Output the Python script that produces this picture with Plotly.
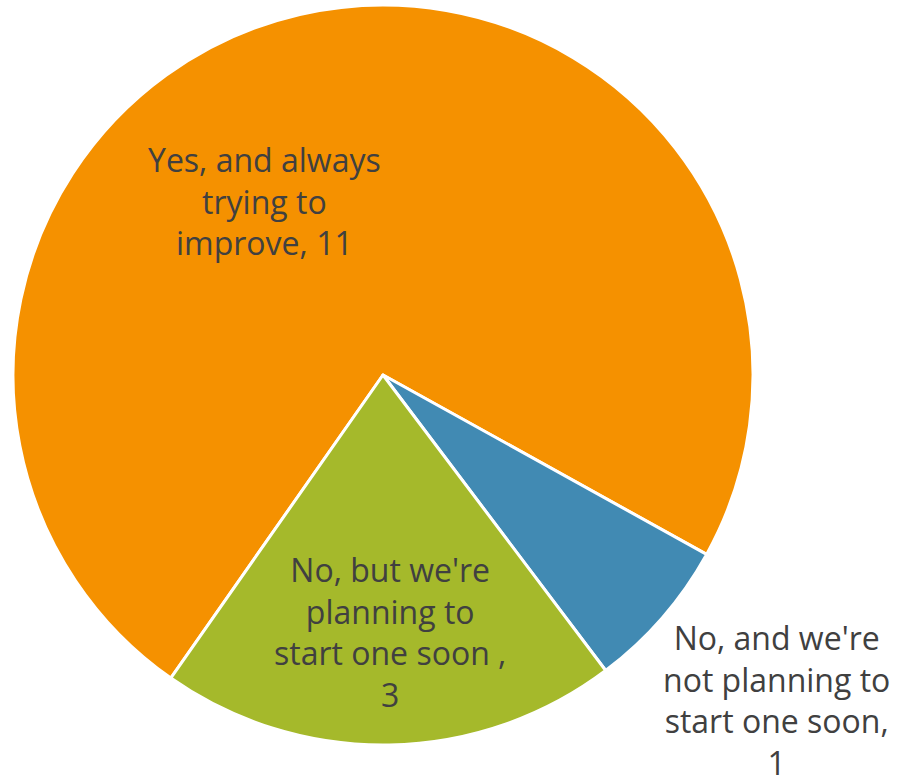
import plotly.graph_objects as go

# Survey responses
categories = [
    "Yes, and always trying to improve",
    "No, and we're not planning to start one soon",
    "No, but we're planning to start one soon ",
]
counts = [11, 1, 3]
colors = ["#F59100", "#418AB3", "#A5B92B"]

# Wrapped label text shown on the chart
label_lines = [
    ["Yes, and always", "trying to", "improve, " + str(counts[0])],
    ["No, and we're", "not planning to", "start one soon,", str(counts[1])],
    ["No, but we're", "planning to", "start one soon ,", str(counts[2])],
]
# Label anchor positions (paper pixels from top-left)
label_pos = [(264, 201), (776, 700), (390, 632)]

W, H = 897, 781

fig = go.Figure(
    go.Pie(
        labels=categories,
        values=counts,
        sort=False,
        direction="clockwise",
        rotation=215,
        marker=dict(colors=colors, line=dict(color="white", width=3)),
        textinfo="none",
        hoverinfo="label+value",
        domain=dict(x=[13 / W, 753 / W], y=[1 - 745 / H, 1 - 5 / H]),
        showlegend=False,
    )
)

for lines, (px, py) in zip(label_lines, label_pos):
    fig.add_annotation(
        x=px / W,
        y=1 - py / H,
        xref="paper",
        yref="paper",
        text="<br>".join(lines),
        showarrow=False,
        align="center",
        xanchor="center",
        yanchor="middle",
        font=dict(family="Open Sans", size=32, color="#404040"),
    )

fig.update_layout(
    width=W,
    height=H,
    margin=dict(l=0, r=0, t=0, b=0),
    paper_bgcolor="white",
    plot_bgcolor="white",
)

fig.write_html("out.html")
